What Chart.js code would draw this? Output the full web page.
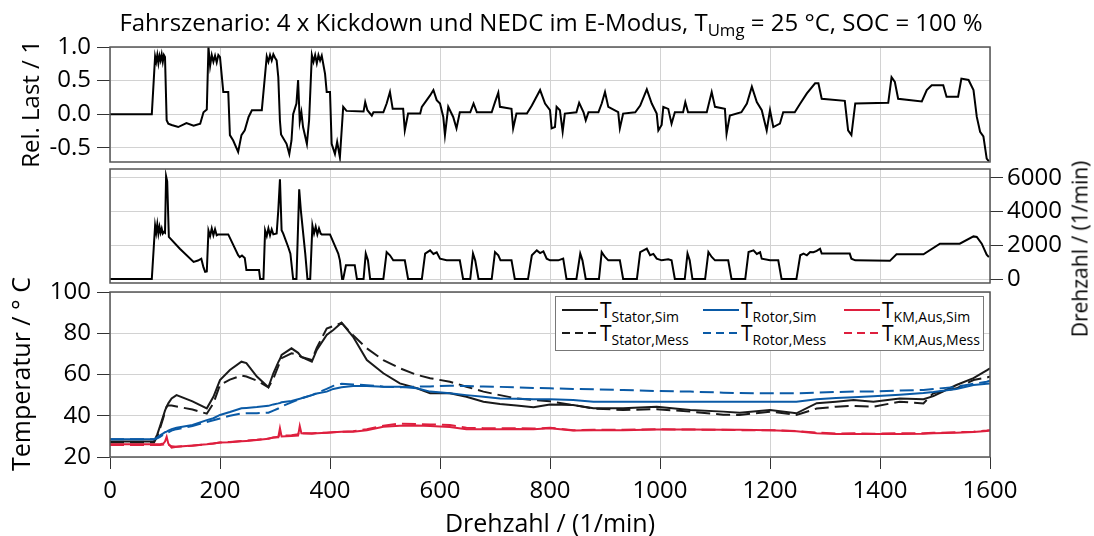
<!DOCTYPE html>
<html>
<head>
<meta charset="utf-8">
<script src="https://cdn.jsdelivr.net/npm/chart.js@4/dist/chart.umd.min.js"></script>
<style>
    body { margin: 0; background: #fff; font-family: "Open Sans", sans-serif; color: #000; }
    #wrap { position: relative; width: 1094px; height: 536px; overflow: hidden; }
    canvas { position: absolute; left: 0; top: 0; }
    .txt { position: absolute; white-space: nowrap; font-size: 24px; line-height: 1; z-index: 5; }
    .rot { transform: translate(-50%, -50%) rotate(-90deg); }
    sub { font-size: 70%; vertical-align: -0.3em; line-height: 0; }
    #legend { position: absolute; left: 555px; top: 296px; width: 427px; height: 53px; border: 1px solid #777;
              background: #fff; z-index: 6; font-size: 21px; }
    #legend .item { position: absolute; height: 22px; line-height: 22px; white-space: nowrap; }
    #legend .smp { position: absolute; top: 10px; left: 0; width: 36px; height: 2px; }
    #legend .lab { position: absolute; left: 38px; top: 0; }
    #legend sub { font-size: 14px; vertical-align: -4px; }
</style>
</head>
<body>
<div id="wrap">
    <canvas id="lastChart" width="1094" height="536"></canvas>
    <canvas id="drehzahlChart" width="1094" height="536"></canvas>
    <canvas id="tempChart" width="1094" height="536"></canvas>

    <div class="txt" style="left:551px; top:10px; transform:translateX(-50%);">Fahrszenario: 4 x Kickdown und NEDC im E-Modus, T<sub>Umg</sub> = 25 °C, SOC = 100 %</div>
    <div class="txt rot" style="left:30px; top:104px;">Rel. Last / 1</div>
    <div class="txt rot" style="left:20px; top:374px; font-size:25px;">Temperatur / ° C</div>
    <div class="txt rot" style="left:1080px; top:249px; font-size:21px;">Drehzahl / (1/min)</div>
    <div class="txt" style="left:550px; top:510px; transform:translateX(-50%); font-size:25px;">Drehzahl / (1/min)</div>

    <div id="legend"></div>
</div>

<script>
const lastZeit = [
    0, 76, 82, 84, 86, 88, 90, 92, 94, 96,
    98, 100, 103, 106, 112, 124, 139, 152, 164, 170,
    176, 179, 182, 185, 188, 191, 194, 197, 200, 206,
    215, 218, 224, 233, 239, 245, 252, 258, 276, 285,
    288, 291, 294, 297, 300, 303, 306, 309, 311, 321,
    326, 330, 333, 339, 342, 345, 348, 351, 358, 362,
    367, 370, 373, 376, 379, 382, 385, 391, 394, 400,
    403, 409, 413, 418, 424, 430, 461, 464, 468, 476,
    479, 497, 503, 509, 514, 533, 536, 542, 564, 567,
    582, 588, 594, 600, 606, 609, 615, 624, 630, 636,
    655, 661, 667, 694, 700, 706, 709, 730, 733, 739,
    758, 767, 782, 791, 800, 803, 809, 812, 818, 823,
    827, 848, 853, 861, 865, 870, 888, 894, 900, 906,
    924, 927, 933, 955, 964, 976, 985, 994, 997, 1003,
    1006, 1015, 1021, 1027, 1042, 1046, 1051, 1085, 1094, 1100,
    1118, 1121, 1127, 1148, 1158, 1167, 1176, 1185, 1194, 1200,
    1206, 1218, 1224, 1245, 1255, 1267, 1282, 1288, 1294, 1336,
    1342, 1348, 1355, 1415, 1421, 1427, 1433, 1476, 1485, 1494,
    1515, 1521, 1542, 1548, 1561, 1570, 1576, 1582, 1588, 1594,
    1598
];
const lastWert = [
    0, 0, 0.86, 0.78, 0.88, 0.76, 0.87, 0.8, 0.89, 0.78,
    0.88, 0.85, -0.09, -0.14, -0.16, -0.19, -0.13, -0.17, -0.14, 0.03,
    0.07, 1.0, 0.72, 0.88, 0.78, 0.87, 0.77, 0.88, 0.85, 0.33,
    0.33, -0.31, -0.39, -0.56, -0.31, -0.24, -0.04, 0.06, 0.06, 0.86,
    0.78, 0.88, 0.8, 0.89, 0.84, 0.8, 0.55, -0.1, -0.3, -0.44,
    -0.59, -0.39, 0, 0.16, 0.51, -0.11, 0.03, -0.19, -0.44, -0.09,
    0.88, 0.78, 0.88, 0.76, 0.88, 0.8, 0.87, 0.6, 0.33, 0.33,
    -0.44, -0.59, -0.41, -0.64, 0.11, 0.05, 0.04, 0.18, 0.06, -0.02,
    0.03, 0.03, 0.16, 0.33, 0.08, 0.08, -0.24, 0.01, 0.01, 0.11,
    0.28, 0.36, 0.21, 0.16, -0.04, -0.31, 0.11, -0.04, -0.21, 0.03,
    0.03, 0.16, 0.03, 0.03, 0.18, 0.32, 0.11, 0.08, -0.21, 0.01,
    0.01, 0.13, 0.36, 0.16, 0.06, -0.21, -0.19, 0.11, 0.06, -0.26,
    0.01, 0.03, 0.17, 0.03, -0.09, 0.03, 0.03, 0.16, 0.33, 0.11,
    0.03, -0.21, 0.01, 0.03, 0.13, 0.37, 0.16, 0.01, -0.24, -0.16,
    0.11, 0.08, -0.14, 0.03, 0.03, 0.18, 0.03, 0.03, 0.33, 0.11,
    0.08, -0.29, -0.02, 0.03, 0.16, 0.41, 0.18, 0.06, -0.24, 0.06,
    -0.19, -0.14, 0.03, 0.03, 0.16, 0.31, 0.46, 0.46, 0.23, 0.2,
    -0.24, -0.31, 0.16, 0.17, 0.55, 0.48, 0.23, 0.19, 0.36, 0.43,
    0.43, 0.26, 0.26, 0.53, 0.51, 0.36, -0.04, -0.26, -0.33, -0.66,
    -0.7
];

const drehzahlZeit = [
    0, 76, 82, 84, 86, 88, 90, 92, 94, 96,
    98, 100, 102, 104, 107, 127, 152, 160, 166, 170,
    173, 176, 179, 182, 185, 188, 191, 194, 197, 215,
    233, 236, 240, 245, 248, 271, 273, 279, 282, 285,
    288, 291, 294, 297, 303, 306, 309, 312, 315, 324,
    328, 333, 339, 344, 347, 355, 359, 364, 368, 371,
    374, 377, 380, 383, 385, 400, 415, 418, 422, 424,
    429, 445, 449, 461, 465, 469, 473, 497, 503, 509,
    515, 536, 542, 567, 573, 582, 588, 594, 600, 612,
    630, 636, 642, 655, 660, 664, 670, 694, 700, 706,
    710, 730, 736, 760, 767, 776, 782, 788, 794, 800,
    815, 824, 830, 848, 855, 859, 865, 889, 894, 900,
    906, 927, 933, 958, 964, 976, 982, 988, 994, 1003,
    1015, 1021, 1027, 1045, 1050, 1054, 1059, 1082, 1088, 1094,
    1100, 1124, 1130, 1155, 1161, 1170, 1176, 1182, 1185, 1200,
    1215, 1221, 1248, 1255, 1261, 1267, 1273, 1279, 1285, 1291,
    1294, 1345, 1348, 1355, 1418, 1430, 1479, 1509, 1545, 1570,
    1576, 1585, 1594, 1598
];
const drehzahlWert = [
    0, 0, 3175, 2750, 3250, 2700, 3100, 2750, 3000, 2700,
    2800, 2750, 6100, 5800, 2500, 1800, 1020, 1100, 1210, 690,
    430, 450, 2880, 2550, 3000, 2600, 2950, 2600, 2650, 2650,
    1420, 1300, 1400, 1250, 530, 530, 0, 0, 2880, 2550,
    3000, 2600, 2950, 2650, 2700, 4100, 5920, 2900, 2700, 1900,
    1510, 0, 0, 5330, 4080, 1510, 0, 0, 3175, 2700,
    3100, 2650, 3000, 2700, 2650, 2650, 1510, 1110, 0, 0,
    820, 820, 0, 0, 1510, 1110, 0, 0, 1600, 1410,
    1110, 1110, 0, 0, 1510, 1700, 1490, 1590, 1210, 1110,
    1110, 1110, 0, 0, 1510, 1110, 0, 0, 1600, 1410,
    1110, 1110, 0, 0, 1410, 1700, 1540, 1640, 1210, 1110,
    1110, 1210, 0, 0, 1510, 1110, 0, 0, 1600, 1310,
    1110, 1110, 0, 0, 1600, 1800, 1410, 1490, 1210, 1110,
    1170, 1110, 0, 0, 1510, 1110, 0, 0, 1600, 1310,
    1110, 1110, 0, 0, 1600, 1700, 1490, 1590, 1210, 1110,
    1110, 0, 0, 1410, 1510, 1410, 1600, 1590, 1670, 1800,
    1510, 1510, 1210, 1110, 1080, 1470, 1470, 2100, 2100, 2530,
    2500, 2100, 1450, 1300
];

const tempZeit = [
    0, 80, 86, 91, 97, 100, 103, 106, 112, 121,
    150, 176, 188, 200, 218, 239, 248, 267, 288, 297,
    306, 309, 312, 330, 342, 345, 348, 367, 376, 394,
    406, 421, 442, 467, 497, 527, 558, 582, 618, 648,
    679, 709, 739, 770, 800, 842, 879, 933, 994, 1055,
    1115, 1145, 1200, 1248, 1285, 1320, 1352, 1388, 1436, 1479,
    1497, 1539, 1570, 1594, 1600
];
const statorSim = [
    27.5, 27.5, 31, 35, 40, 42.5, 44.4, 46, 48.4, 50,
    47, 43.6, 49.2, 57.3, 62.2, 66.2, 65.5, 59, 53.8, 60.6,
    66, 67.5, 69.5, 72.7, 70.5, 69.5, 68.5, 66.2, 71.9, 79.2,
    81.6, 85.1, 78.3, 67, 60.6, 55.7, 53.3, 50.9, 50.9, 49.2,
    46.8, 45.7, 45, 44.1, 45.5, 45.2, 43.6, 43.6, 44.4, 42.8,
    42, 41.5, 42.8, 41.2, 46.1, 46.8, 47.6, 46.8, 48.4, 48,
    49.5, 54.9, 58.2, 62, 63
];
const statorMess = [
    27, 27, 30, 34, 39, 42, 44.4, 45, 45, 44.5,
    43, 41, 46, 55, 57.5, 59.5, 59, 57, 53.8, 58,
    64, 66, 67.9, 70.3, 69.5, 69, 68.5, 67, 73, 82.3,
    83.5, 85, 79, 72.7, 67, 63, 59.8, 58.2, 56.5, 54.1,
    51.7, 50, 48.4, 47.6, 47, 45.2, 43.5, 42.8, 43.2, 42,
    40.5, 40.4, 42, 40.4, 43.5, 44.4, 44.8, 44.4, 46.8, 46,
    50.9, 53.3, 57.3, 58.5, 59
];
const rotorSim = [
    28.6, 28.6, 29.5, 30.5, 31.5, 32, 32.3, 32.8, 33.5, 34.2,
    35.5, 37.9, 38.8, 40.4, 41.8, 43.6, 43.8, 44.2, 44.8, 45.5,
    46, 46.2, 46.5, 47.2, 48, 48.2, 48.5, 50, 50.8, 51.7,
    53, 53.8, 54.4, 54.4, 54.1, 54.1, 53.3, 51.7, 50.9, 50,
    49.2, 48.4, 48.2, 48, 48, 47.6, 46.8, 46.8, 46.8, 46.8,
    46.8, 46.8, 46.8, 46.8, 48, 48.6, 49, 49.5, 50.2, 51,
    51.5, 53, 54.9, 55.5, 55.7
];
const rotorMess = [
    28.6, 28.6, 29, 29.8, 30.8, 31.2, 31.5, 32, 32.8, 33.5,
    35, 37, 37.8, 38.7, 40, 41.1, 41.2, 41.2, 41.5, 42.5,
    43.5, 44, 44.5, 46.5, 47.8, 48, 48.4, 50, 51, 53,
    54.5, 55.5, 55.2, 54.8, 54.1, 53.8, 54.1, 54.2, 54.6, 54.4,
    54.2, 54, 53.8, 53.5, 53.3, 53, 52.8, 52.5, 52, 51.7,
    51.2, 51, 50.9, 50.9, 51.2, 51.5, 51.7, 51.8, 52.2, 52.5,
    53, 54, 55.5, 56.5, 57
];
const kmSim = [
    26.2, 26.2, 26.2, 26.2, 26.5, 27.5, 29.8, 26.5, 24.5, 25,
    25.6, 26.2, 26.6, 27, 27.2, 27.6, 27.8, 28.2, 28.8, 29.4,
    29.6, 33.9, 30, 30.2, 30.4, 35, 31.5, 31.3, 31.5, 31.8,
    32, 32.2, 32.3, 33, 34.7, 35.2, 35.3, 35, 34.5, 33.4,
    33.4, 33.5, 33.6, 33.4, 33.9, 32.8, 33, 33, 33.3, 33.3,
    33.2, 33.2, 33, 32.5, 31.5, 31.2, 31.2, 31.2, 31.2, 31.3,
    31.5, 31.8, 32.1, 32.6, 32.8
];
const kmMess = [
    25.8, 25.8, 25.8, 25.8, 26, 26.5, 27, 26, 25.2, 25,
    25.5, 26.2, 26.5, 27, 27.3, 27.8, 28, 28.4, 29, 29.5,
    29.8, 31, 30.3, 30.5, 31, 32.5, 31.5, 31.5, 31.6, 31.8,
    32, 32.2, 32.5, 33.5, 35.2, 36.2, 36, 35.8, 35.5, 34.2,
    34, 34, 34, 33.8, 34.2, 33, 33.2, 33.2, 33.5, 33.3,
    33.2, 33, 33, 32.6, 31.8, 31.4, 31.5, 31.3, 31.5, 31.5,
    31.7, 32, 32.3, 32.8, 33
];

const xTicks = [0, 200, 400, 600, 800, 1000, 1200, 1400, 1600];
const lastTicks = [-0.5, 0, 0.5, 1.0];
const drehzahlTicks = [0, 2000, 4000, 6000];
const tempTicks = [20, 40, 60, 80, 100];

const legendEintraege = [
    { name: "Stator,Sim", farbe: "#1a1a1a", gestrichelt: false },
    { name: "Rotor,Sim", farbe: "#0a5aa6", gestrichelt: false },
    { name: "KM,Aus,Sim", farbe: "#de1f3e", gestrichelt: false },
    { name: "Stator,Mess", farbe: "#1a1a1a", gestrichelt: true },
    { name: "Rotor,Mess", farbe: "#0a5aa6", gestrichelt: true },
    { name: "KM,Aus,Mess", farbe: "#de1f3e", gestrichelt: true }
];

const GRID = "#d2d2d2";
const TICK = "#333";

Chart.defaults.font.family = "'Open Sans', sans-serif";
Chart.defaults.font.size = 24;
Chart.defaults.color = "#000";

const rahmen = {
    id: "rahmen",
    afterDatasetsDraw(chart) {
        const a = chart.chartArea;
        const ctx = chart.ctx;
        ctx.save();
        ctx.strokeStyle = "#555";
        ctx.lineWidth = 1.5;
        ctx.strokeRect(a.left, a.top, a.right - a.left, a.bottom - a.top);
        ctx.restore();
    }
};

function punkte(zeit, werte) {
    return zeit.map((t, i) => ({ x: t, y: werte[i] }));
}

function linie(zeit, werte, farbe, gestrichelt) {
    return {
        data: punkte(zeit, werte),
        borderColor: farbe,
        borderWidth: 2,
        borderDash: gestrichelt ? [14, 6] : [],
        pointRadius: 0,
        tension: 0
    };
}

function xAchse(mitLabels) {
    return {
        type: "linear",
        min: 0,
        max: 1600,
        afterBuildTicks(s) { s.ticks = xTicks.map(v => ({ value: v })); },
        ticks: { display: mitLabels, padding: 8, maxRotation: 0, callback: v => String(v) },
        grid: { color: GRID, tickColor: TICK, tickLength: 12, drawTicks: mitLabels },
        border: { display: false },
        afterFit(s) { s.height = mitLabels ? 79 : 0; }
    };
}

function basisOptionen(padding, scales) {
    return {
        responsive: false,
        animation: false,
        devicePixelRatio: 1,
        layout: { padding },
        plugins: { legend: { display: false }, tooltip: { enabled: false } },
        scales
    };
}

new Chart(document.getElementById("lastChart"), {
    type: "line",
    data: { datasets: [linie(lastZeit, lastWert, "#000", false)] },
    options: basisOptionen({ left: 0, right: 104, top: 47, bottom: 374 }, {
        x: xAchse(false),
        y: {
            min: -0.71,
            max: 1.0,
            afterBuildTicks(s) { s.ticks = lastTicks.map(v => ({ value: v })); },
            ticks: { padding: 6, callback: v => v.toFixed(1) },
            grid: { color: GRID, tickColor: TICK, tickLength: 13 },
            border: { display: false },
            afterFit(s) { s.width = 110; }
        }
    }),
    plugins: [rahmen]
});

new Chart(document.getElementById("drehzahlChart"), {
    type: "line",
    data: { datasets: [linie(drehzahlZeit, drehzahlWert, "#000", false)] },
    options: basisOptionen({ left: 110, right: 0, top: 169, bottom: 253 }, {
        x: xAchse(false),
        y: {
            position: "right",
            min: -235,
            max: 6530,
            afterBuildTicks(s) { s.ticks = drehzahlTicks.map(v => ({ value: v })); },
            ticks: { padding: 4, callback: v => String(v) },
            grid: { color: GRID, tickColor: TICK, tickLength: 13 },
            border: { display: false },
            afterFit(s) { s.width = 104; }
        }
    }),
    plugins: [rahmen]
});

new Chart(document.getElementById("tempChart"), {
    type: "line",
    data: {
        datasets: [
            linie(tempZeit, kmMess, "#de1f3e", true),
            linie(tempZeit, kmSim, "#de1f3e", false),
            linie(tempZeit, rotorMess, "#0a5aa6", true),
            linie(tempZeit, rotorSim, "#0a5aa6", false),
            linie(tempZeit, statorMess, "#1a1a1a", true),
            linie(tempZeit, statorSim, "#1a1a1a", false)
        ]
    },
    options: basisOptionen({ left: 0, right: 104, top: 292, bottom: 0 }, {
        x: xAchse(true),
        y: {
            min: 20,
            max: 100,
            afterBuildTicks(s) { s.ticks = tempTicks.map(v => ({ value: v })); },
            ticks: { padding: 6 },
            grid: { color: GRID, tickColor: TICK, tickLength: 13 },
            border: { display: false },
            afterFit(s) { s.width = 110; }
        }
    }),
    plugins: [rahmen]
});

const legend = document.getElementById("legend");
legendEintraege.forEach((e, i) => {
    const item = document.createElement("div");
    item.className = "item";
    item.style.left = (6 + (i % 3) * 141) + "px";
    item.style.top = (2 + Math.floor(i / 3) * 23) + "px";
    const bg = e.gestrichelt
        ? `repeating-linear-gradient(to right, ${e.farbe} 0 8px, transparent 8px 13px)`
        : e.farbe;
    item.innerHTML = `<span class="smp" style="background:${bg}"></span><span class="lab">T<sub>${e.name}</sub></span>`;
    legend.appendChild(item);
});
</script>
</body>
</html>
